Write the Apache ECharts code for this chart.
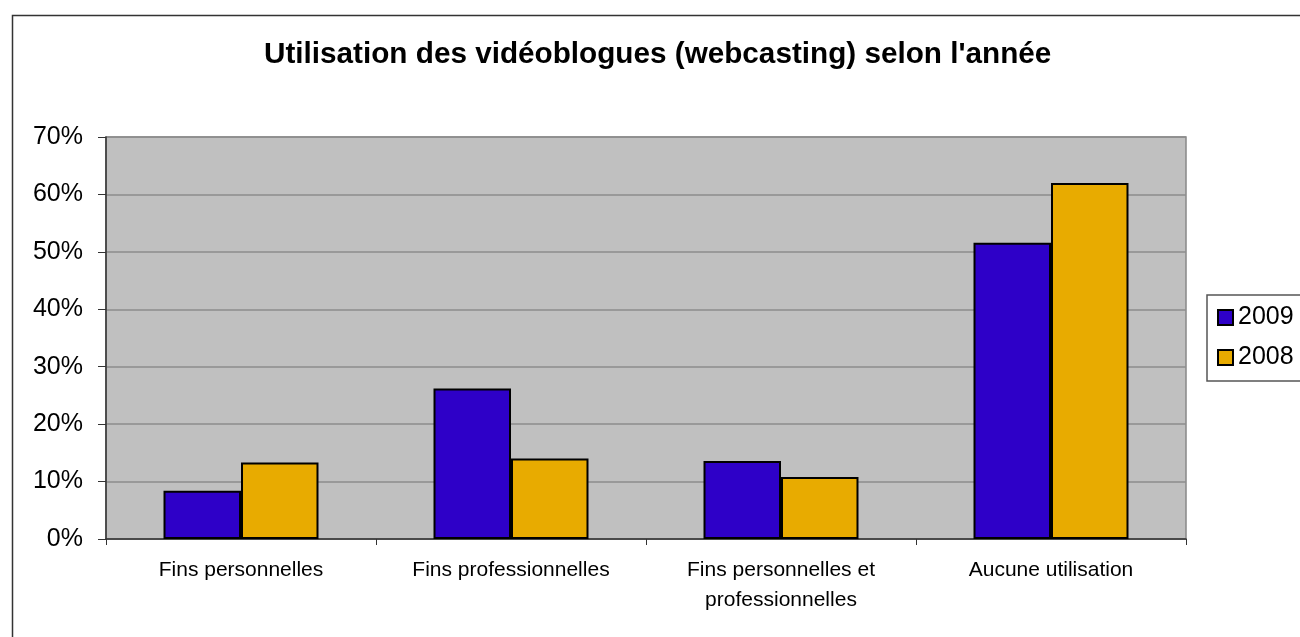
<!DOCTYPE html>
<html>
<head>
    <meta charset="utf-8">
    <title>index</title>
    <style>
        html, body { margin: 0; padding: 0; background: #fff; }
        #container { width: 1300px; height: 637px; }
    </style>
</head>
<body>
    <div id="container"></div>
</body>
<script src="https://cdn.jsdelivr.net/npm/echarts@6/dist/echarts.min.js"></script>
<script type="text/javascript">
    var categories = [
        "Fins personnelles",
        "Fins professionnelles",
        "Fins personnelles et\nprofessionnelles",
        "Aucune utilisation"
    ];
    var seriesNames = ["2009", "2008"];
    var values2009 = [8.4, 26.2, 13.6, 51.6];
    var values2008 = [13.3, 14.0, 10.8, 62.0];

    var fontFamily = "'Liberation Sans', Arial, sans-serif";
    var dom = document.getElementById("container");
    var myChart = echarts.init(dom);

    option = {
        backgroundColor: '#fff',
        animation: false,
        textStyle: { fontFamily: fontFamily, color: '#000' },
        // cadre extérieur du graphique
        graphic: [{
            type: 'rect',
            left: 10,
            top: 13,
            shape: { width: 1400, height: 700 },
            style: { fill: 'none', stroke: '#333', lineWidth: 1.5 },
            silent: true
        }],
        title: {
            text: "Utilisation des vidéoblogues (webcasting) selon l'année",
            left: 264,
            top: 40,
            padding: 0,
            textStyle: {
                fontFamily: fontFamily,
                fontSize: 29.7,
                fontWeight: 'bold',
                color: '#000'
            }
        },
        legend: {
            data: seriesNames,
            orient: 'vertical',
            left: 1207,
            top: 295,
            padding: [10, 40, 11, 10],
            itemGap: 15,
            itemWidth: 15,
            itemHeight: 15,
            icon: 'rect',
            borderColor: '#555',
            borderWidth: 1.5,
            backgroundColor: '#fff',
            textStyle: {
                fontFamily: fontFamily,
                fontSize: 25,
                color: '#000'
            }
        },
        grid: {
            left: 106,
            right: 114,
            top: 137,
            bottom: 98,
            show: true,
            backgroundColor: '#C0C0C0',
            borderColor: '#888',
            borderWidth: 1.5
        },
        xAxis: {
            type: 'category',
            data: categories,
            axisLine: { show: true, lineStyle: { color: '#333', width: 1.5 } },
            axisTick: { show: true, length: 6, lineStyle: { color: '#333' } },
            axisLabel: {
                fontFamily: fontFamily,
                fontSize: 21,
                color: '#000',
                lineHeight: 30,
                margin: 16,
                interval: 0
            },
            splitLine: { show: false }
        },
        yAxis: {
            type: 'value',
            min: 0,
            max: 70,
            interval: 10,
            axisLine: { show: true, lineStyle: { color: '#333', width: 1.5 } },
            axisTick: { show: true, length: 8, lineStyle: { color: '#333' } },
            axisLabel: {
                fontFamily: fontFamily,
                fontSize: 25,
                color: '#000',
                margin: 23,
                formatter: '{value}%'
            },
            splitLine: { show: true, lineStyle: { color: '#8c8c8c', width: 1.5 } }
        },
        series: [{
            name: seriesNames[0],
            type: 'bar',
            data: values2009,
            barGap: 0,
            barCategoryGap: '42.6%',
            itemStyle: { color: '#2E00C8', borderColor: '#000', borderWidth: 2 }
        }, {
            name: seriesNames[1],
            type: 'bar',
            data: values2008,
            barGap: 0,
            barCategoryGap: '42.6%',
            itemStyle: { color: '#E8AB00', borderColor: '#000', borderWidth: 2 }
        }]
    };
    if (option && typeof option === "object") {
        myChart.setOption(option, true);
    };
</script>
</html>
